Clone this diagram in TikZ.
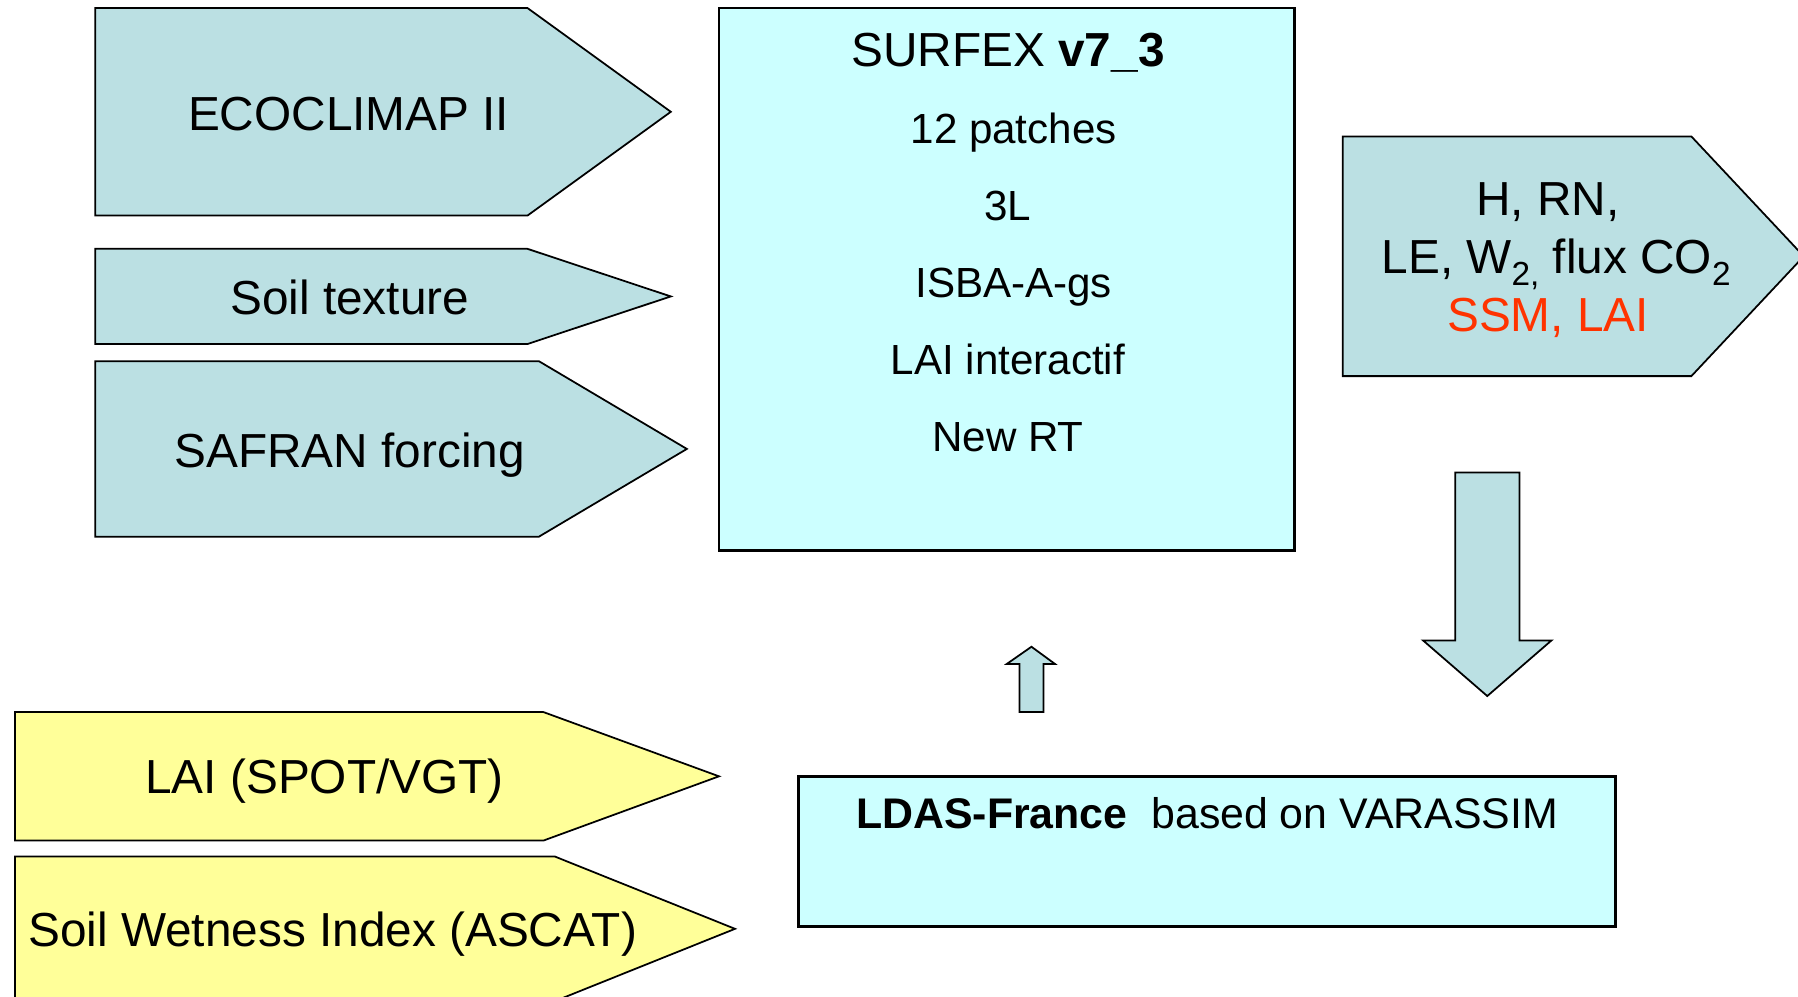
\documentclass[tikz,border=0pt]{standalone}
\usepackage{fontspec}
\setmainfont{Liberation Sans}
\usetikzlibrary{positioning}

\definecolor{tealfill}{HTML}{BBE0E3}
\definecolor{cyanfill}{HTML}{CCFFFF}
\definecolor{yellowfill}{HTML}{FFFF99}
\definecolor{redtext}{HTML}{FF3300}
\newcommand{\lowidx}[1]{\raisebox{-.26em}{\fontsize{9.5}{10}\selectfont #1}}

\begin{document}
\begin{tikzpicture}[x=0.011467cm,y=-0.011467cm,
  big/.style={font=\fontsize{13.6}{16}\selectfont,anchor=base,inner sep=0pt},
  small/.style={font=\fontsize{12}{14}\selectfont,anchor=base,inner sep=0pt},
  tag/.style={draw,line width=.5pt},
  panel/.style={draw,line width=.8pt,fill=cyanfill}]
\useasboundingbox (0,0) rectangle (1568,869);
% input and output tags
\foreach \l/\t/\b/\s/\p/\c in {%
  83/7/188/460/585/tealfill,
  83/217/300/460/585/tealfill,
  83/315/468/470/599/tealfill,
  13/621/733/474/627/yellowfill,
  13/747/873/484/641/yellowfill,
  1171/119/328/1475/1573/tealfill}
\draw[tag,fill=\c] (\l,\t) -- (\s,\t) -- (\p,{(\t+\b)/2}) -- (\s,\b) -- (\l,\b) -- cycle;
\node[big] (eco) at (304,113.5) {ECOCLIMAP II};
\node[big] (soil) at (305,274) {Soil texture};
\node[big] (safran) at (305,408) {SAFRAN forcing};
\node[big] (lai) at (283,692) {LAI (SPOT/VGT)};
\node[big] (swi) at (290,825.5) {Soil Wetness Index (ASCAT)};
\node[big] (out1) at (1350,188) {H, RN,};
\node[big] (out2) at (1357,238.5) {LE, W\lowidx{2,} flux CO\lowidx{2}};
\node[big,text=redtext] (out3) at (1350,289) {SSM, LAI};
% model box
\draw[panel] (627,7) rectangle (1129,480);
\node[big] (surfex) at (879,57.6) {SURFEX \textbf{v7\_3}};
\foreach \t/\x[count=\i] in {12 patches/884, 3L/879, ISBA-A-gs/884, LAI interactif/879, New RT/879}
  \node[small] (opt\i) at (\x,{57.6+67.3*\i}) {\t};
% assimilation box
\draw[panel] (696,677) rectangle (1409,808);
\node[small,font=\fontsize{12.2}{14}\selectfont] (ldas) at (1052.6,722.3) {\textbf{LDAS-France}\ \ based on VARASSIM};
% block arrows
\draw[tag,fill=tealfill] (1269,412) -- (1325,412) -- (1325,558.5) -- (1353,558.5)
  -- (1297,607) -- (1241,558.5) -- (1269,558.5) -- cycle;
\draw[tag,fill=tealfill] (889,621) -- (910,621) -- (910,579) -- (920,579)
  -- (899.5,564) -- (878,579) -- (889,579) -- cycle;
\end{tikzpicture}
\end{document}
